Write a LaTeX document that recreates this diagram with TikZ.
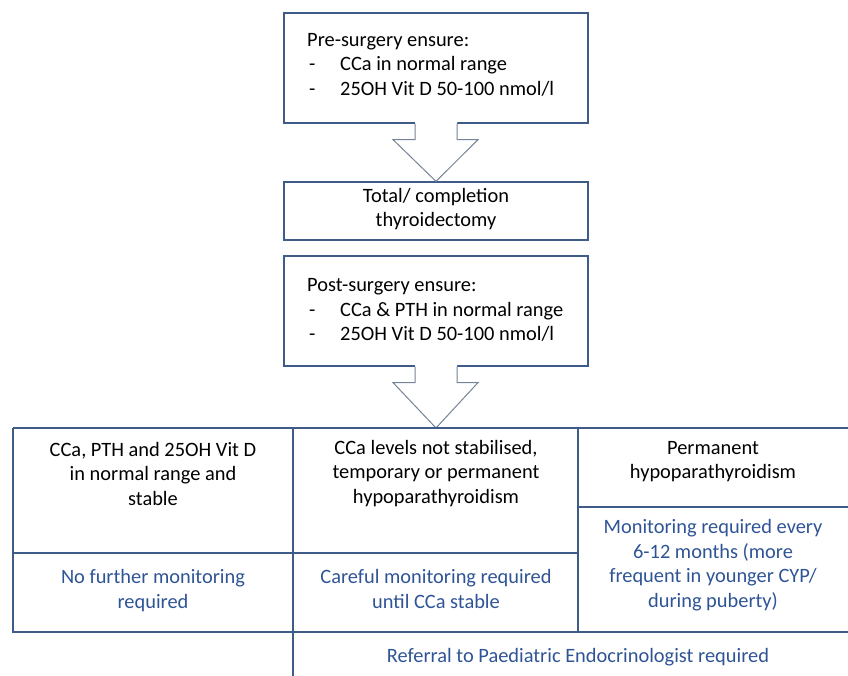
\documentclass[tikz,border=0pt]{standalone}
\usepackage{fontspec}
\setmainfont{Carlito}
\usetikzlibrary{calc}
\definecolor{boxline}{RGB}{62,92,135}
\definecolor{arrowline}{RGB}{118,132,152}
\definecolor{bluetext}{RGB}{47,84,150}
\tikzset{
  box/.style={draw=boxline, line width=1.2pt, minimum width=304pt, inner sep=0pt},
  txt/.style={inner sep=0pt, font=\fontsize{20.4}{24.5}\selectfont, text=black},
  btxt/.style={txt, text=bluetext, align=center},
  gridline/.style={draw=boxline, line width=1.2pt},
  arr/.style={draw=arrowline, line width=1pt, line join=miter},
}
\newcommand\blockarrow[2]{%
  \fill[white] ($(#1.south)+(-21,-1.5)$) -- ($(#1.south)+(-21,16)$) -- ($(#1.south)+(-43,16)$)
     -- (#2.north) -- ($(#1.south)+(42,16)$) -- ($(#1.south)+(21,16)$) -- ($(#1.south)+(21,-1.5)$) -- cycle;
  \draw[arr] ($(#1.south)+(-21,0)$) -- ($(#1.south)+(-21,16)$) -- ($(#1.south)+(-43,16)$)
     -- (#2.north) -- ($(#1.south)+(42,16)$) -- ($(#1.south)+(21,16)$) -- ($(#1.south)+(21,0)$);
}
\newcommand\itm[1]{\hspace*{2pt}\makebox[31pt][l]{-}#1}
\begin{document}
\begin{tikzpicture}[x=1pt,y=-1pt]
\useasboundingbox (0,0) rectangle (848,676);
% boxes
\node[box, minimum height=110pt] (b1) at (436,68) {};
\node[box, minimum height=58pt] (b2) at (436,211) {};
\node[box, minimum height=110pt] (b3) at (436,311) {};
\node[txt, anchor=west, align=left] (t1) at (307,64.5)
  {Pre-surgery ensure:\\\itm{CCa in normal range}\\\itm{25OH Vit D 50-100 nmol/l}};
\node[txt, align=center] (t2) at (436,209) {Total/ completion\\thyroidectomy};
\node[txt, anchor=west, align=left] (t3) at (307,310)
  {Post-surgery ensure:\\\itm{CCa \& PTH in normal range}\\\itm{25OH Vit D 50-100 nmol/l}};
% grid coordinates
\coordinate (g) at (436,428);
\blockarrow{b1}{b2}
\blockarrow{b3}{g}
\draw[gridline] (13,428) -- (848,428);
\draw[gridline] (13,428) -- (13,632) -- (578,632);
\draw[gridline] (578,632) -- (848,632);
\draw[gridline] (293,428) -- (293,676);
\draw[gridline] (578,428) -- (578,632);
\draw[gridline] (13,553) -- (578,553);
\draw[gridline] (578,507) -- (848,507);
% cell texts
\node[txt, align=center] (c1) at (153,473.5) {CCa, PTH and 25OH Vit D\\in normal range and\\stable};
\node[txt, align=center] (c2) at (436,473.5) {CCa levels not stabilised,\\temporary or permanent\\hypoparathyroidism};
\node[txt, align=center] (c3) at (713,461.5) {Permanent\\hypoparathyroidism};
\node[btxt] (d1) at (153,590.5) {No further monitoring\\required};
\node[btxt] (d2) at (436,589) {Careful monitoring required\\until CCa stable};
\node[btxt] (d3) at (713,565) {Monitoring required every\\6-12 months (more\\frequent in younger CYP/\\during puberty)};
\node[btxt] (r) at (578,657) {Referral to Paediatric Endocrinologist required};
\end{tikzpicture}
\end{document}
